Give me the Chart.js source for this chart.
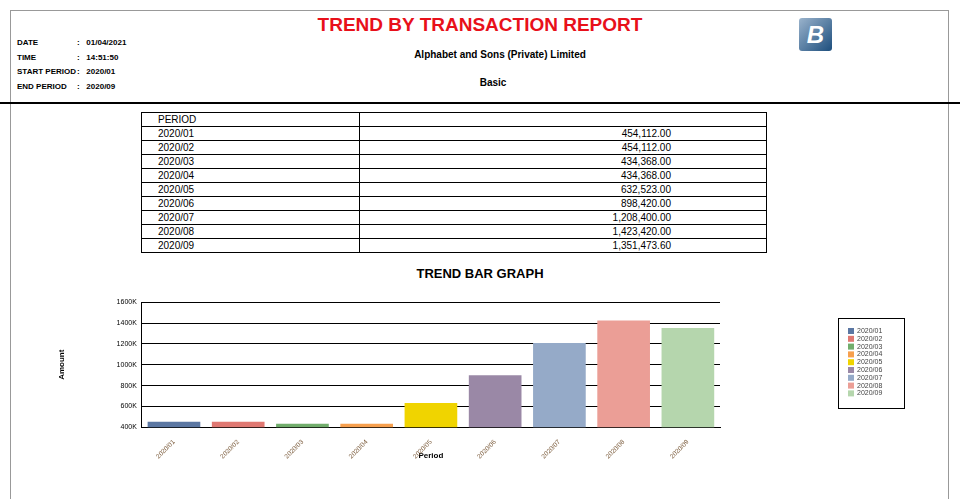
<!DOCTYPE html>
<html>
<head>
<meta charset="utf-8">
<script src="https://cdn.jsdelivr.net/npm/chart.js@4"></script>
<style>
  body { margin: 0; background: #fff; font-family: "Liberation Sans", Arial, sans-serif; width: 960px; height: 499px; overflow: hidden; position: relative; }
  .frame { position: absolute; left: 10px; top: 10px; width: 937px; height: 500px; border: 1px solid #999; border-bottom: none; }
  .hline { position: absolute; left: 0; top: 102px; width: 960px; border-top: 2px solid #000; }
  .info { position: absolute; left: 17px; top: 36px; font-size: 8px; font-weight: bold; line-height: 14.5px; white-space: nowrap; }
  .info span { display: inline-block; width: 60px; }
  .title { position: absolute; left: 0; width: 960px; top: 14px; text-align: center; color: #e8101a; font-size: 19px; font-weight: bold; }
  .sub { position: absolute; left: 0; width: 1000px; text-align: center; font-size: 10px; font-weight: bold; }
  .logo { position: absolute; left: 799px; top: 18px; width: 33px; height: 33px; background: linear-gradient(135deg, #9ab3cc, #1d4e7d); border-radius: 3px; color: #fff; font-weight: bold; font-style: italic; font-size: 24px; text-align: center; line-height: 33px; }
  table { position: absolute; left: 141px; top: 112px; width: 626px; border-collapse: collapse; font-size: 10px; }
  td { border: 1px solid #000; padding: 0 16px; height: 13px; line-height: 11px; }
  td.v { text-align: right; padding-right: 95px; }
  .ctitle { position: absolute; left: 0; width: 960px; top: 266px; text-align: center; font-size: 13px; font-weight: bold; }
  #wrap { position: absolute; left: 55px; top: 293px; width: 865px; height: 172px; }
</style>
</head>
<body>
<div class="frame"></div>
<div class="hline"></div>
<div class="title">TREND BY TRANSACTION REPORT</div>
<div class="sub" style="top:49px;left:0;width:1000px">Alphabet and Sons (Private) Limited</div>
<div class="sub" style="top:77px;left:0;width:986px">Basic</div>
<div class="logo">B</div>
<div class="info">
  <div><span>DATE</span>:&nbsp;&nbsp; 01/04/2021</div>
  <div><span>TIME</span>:&nbsp;&nbsp; 14:51:50</div>
  <div><span>START PERIOD</span>:&nbsp;&nbsp; 2020/01</div>
  <div><span>END PERIOD</span>:&nbsp;&nbsp; 2020/09</div>
</div>
<table id="tbl"><tr><td style="width:185px">PERIOD</td><td></td></tr></table>
<div class="ctitle">TREND BAR GRAPH</div>
<div id="wrap"><canvas id="myChart"></canvas></div>
<script>
// Data
var periods = ['2020/01', '2020/02', '2020/03', '2020/04', '2020/05', '2020/06', '2020/07', '2020/08', '2020/09'];
var amounts = [454112.00, 454112.00, 434368.00, 434368.00, 632523.00, 898420.00, 1208400.00, 1423420.00, 1351473.60];
var barColors = ['#5b77a3', '#e07872', '#71ad6c', '#f7a04e', '#f0d400', '#9a88a6', '#95aac8', '#eb9e96', '#b5d6ad'];

// Tabel vullen
var tbl = document.getElementById('tbl');
periods.forEach(function(p, i) {
    var tr = document.createElement('tr');
    tr.innerHTML = '<td>' + p + '</td><td class="v">' +
        amounts[i].toLocaleString('en-US', { minimumFractionDigits: 2 }) + '</td>';
    tbl.appendChild(tr);
});

// Legenda met kader, zelf getekend
var boxLegend = {
    id: 'boxLegend',
    afterDraw: function(chart) {
        var ctx = chart.ctx;
        ctx.save();
        ctx.strokeStyle = '#000';
        ctx.lineWidth = 1;
        ctx.strokeRect(783.5, 25.5, 66, 90);
        ctx.font = '7px "Liberation Sans", Arial';
        ctx.textBaseline = 'middle';
        periods.forEach(function(p, i) {
            var y = 38 + i * 7.8;
            ctx.fillStyle = barColors[i];
            ctx.fillRect(793, y - 3, 6, 6);
            ctx.fillStyle = '#444';
            ctx.fillText(p, 802, y);
        });
        ctx.restore();
    }
};

new Chart(document.getElementById('myChart'), {
    type: 'bar',
    data: {
        labels: periods,
        datasets: [{
            label: 'Amount',
            data: amounts,
            backgroundColor: barColors,
            barPercentage: 0.82,
            categoryPercentage: 1
        }]
    },
    options: {
        responsive: true,
        maintainAspectRatio: false,
        animation: false,
        layout: { padding: { right: 200, top: 4 } },
        scales: {
            y: {
                min: 400000, max: 1600000,
                ticks: { stepSize: 200000, padding: 5, color: '#000', font: { size: 7 }, callback: function(v) { return (v / 1000) + 'K'; } },
                grid: { color: '#000', drawTicks: false },
                border: { color: '#000' },
                title: { display: true, text: 'Amount', color: '#000', font: { size: 8, weight: 'bold' }, padding: { top: 2, bottom: 45 } }
            },
            x: {
                ticks: { color: '#7a5a3a', font: { size: 6.5 }, maxRotation: 45, minRotation: 45 },
                grid: { display: false },
                border: { color: '#000' },
                title: { display: true, text: 'Period', color: '#000', font: { size: 8, weight: 'bold' }, padding: { top: -12 } }
            }
        },
        plugins: {
            legend: { display: false },
            tooltip: { enabled: false }
        }
    },
    plugins: [boxLegend]
});
</script>
</body>
</html>
